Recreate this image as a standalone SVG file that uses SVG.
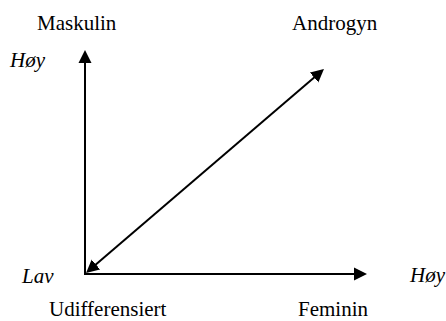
<svg xmlns="http://www.w3.org/2000/svg" width="446" height="321" viewBox="0 0 446 321">
<defs>
<marker id="ah" markerUnits="userSpaceOnUse" markerWidth="14" markerHeight="14" refX="7" refY="6.5" orient="auto-start-reverse" viewBox="0 0 14 13">
<path d="M0,0 L13,6.5 L0,13 z" fill="#000"/>
</marker>
<style>
.lbl{font-family:"Liberation Serif","Times New Roman",serif;font-size:21px;fill:#000}
.it{font-style:italic}
.ax{stroke:#000;stroke-width:2;fill:none}
</style>
</defs>
<rect width="446" height="321" fill="#fff"/>
<g id="connectors">
<line class="ax" x1="85" y1="275" x2="85" y2="56" marker-end="url(#ah)"/>
<line class="ax" x1="84" y1="274" x2="361" y2="274" marker-end="url(#ah)"/>
<line class="ax" x1="90.6" y1="269.1" x2="319.4" y2="72.9" marker-start="url(#ah)" marker-end="url(#ah)"/>
</g>
<g id="maskulin"><text class="lbl" x="37" y="30">Maskulin</text></g>
<g id="androgyn"><text class="lbl" x="292" y="30">Androgyn</text></g>
<g id="hoy-y"><text class="lbl it" x="10" y="67">Høy</text></g>
<g id="lav"><text class="lbl it" x="22" y="283">Lav</text></g>
<g id="hoy-x"><text class="lbl it" x="410" y="282">Høy</text></g>
<g id="udifferensiert"><text class="lbl" x="49" y="316">Udifferensiert</text></g>
<g id="feminin"><text class="lbl" x="298" y="316">Feminin</text></g>
</svg>
